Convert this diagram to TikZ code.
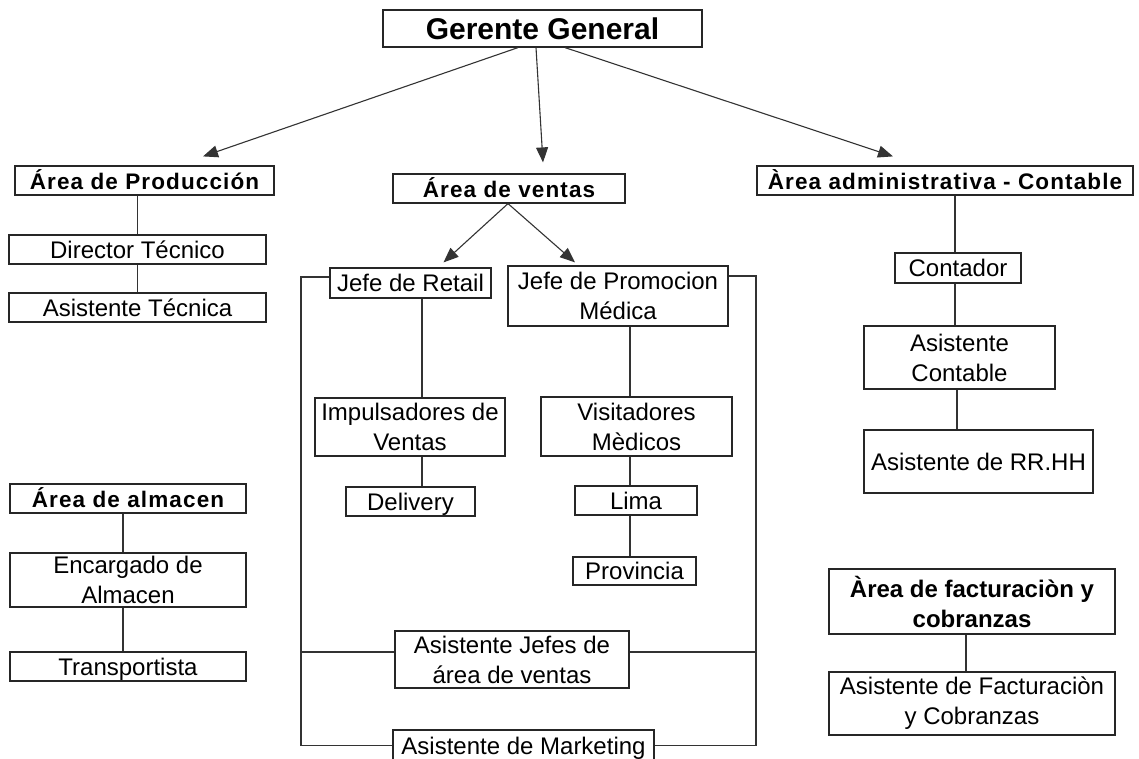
\documentclass[tikz,border=0pt]{standalone}
\usepackage{fontspec}
\setmainfont{Liberation Sans}
\newfontfamily\hdrfont[LetterSpace=5]{Liberation Sans}
\usetikzlibrary{arrows.meta}
\tikzset{
  box/.style={draw=black!85, line width=1.2pt, rectangle, inner sep=0pt, align=center,
    fill=white, font=\fontsize{24}{30}\selectfont},
  one/.style={text height=21pt, text depth=4pt},
  hbox/.style={box, one, font=\hdrfont\bfseries\fontsize{22.5}{26}\selectfont},
  bbox/.style={box, font=\bfseries\fontsize{24}{30}\selectfont},
  conn/.style={line width=1.1pt, draw=black!80},
  arr/.style={conn, -{Triangle[length=15pt,width=12pt]}}
}
\begin{document}
\begin{tikzpicture}[x=1pt,y=-1pt]
\fill[white] (0,0) rectangle (1139,758);
\useasboundingbox (0,0) rectangle (1139,758);

% nodes
\node[box, font=\bfseries\fontsize{30}{34}\selectfont, minimum width=319pt, minimum height=37pt] (gg) at (542.5,28.5) {Gerente General};
\node[hbox, minimum width=259pt, minimum height=29pt] (prod) at (144.5,180.5) {Área de Producción};
\node[hbox, minimum width=232pt, minimum height=29pt] (ventas) at (509,188.5) {Área de ventas};
\node[hbox, minimum width=376pt, minimum height=29pt] (admin) at (945,180.5) {Àrea administrativa - Contable};

\node[box, one, minimum width=257pt, minimum height=29pt] (dir) at (137.5,249.5) {Director Técnico};
\node[box, one, minimum width=257pt, minimum height=29pt] (astec) at (137.5,307.5) {Asistente Técnica};

\node[box, one, minimum width=161pt, minimum height=30pt] (retail) at (410.5,283) {Jefe de Retail};
\node[box, minimum width=220pt, minimum height=60pt] (promo) at (618,296) {Jefe de Promocion\\Médica};

\node[box, one, minimum width=126pt, minimum height=30pt] (cont) at (958,268) {Contador};
\node[box, minimum width=191pt, minimum height=63pt] (acont) at (959.5,357.5) {Asistente\\Contable};
\node[box, one, minimum width=229pt, minimum height=63pt] (rrhh) at (978.5,461.5) {Asistente de RR.HH};

\node[box, minimum width=190pt, minimum height=58pt] (impuls) at (410,427) {Impulsadores de\\Ventas};
\node[box, minimum width=191pt, minimum height=59pt] (visit) at (636.5,426.5) {Visitadores\\Mèdicos};
\node[box, one, minimum width=129pt, minimum height=29pt] (deliv) at (410.5,501.5) {Delivery};
\node[box, one, minimum width=122pt, minimum height=29pt] (lima) at (636,500.5) {Lima};
\node[box, one, minimum width=123pt, minimum height=28pt] (prov) at (634.5,571) {Provincia};

\node[hbox, minimum width=236pt, minimum height=29pt] (alm) at (128,498.5) {Área de almacen};
\node[box, minimum width=236pt, minimum height=54pt] (enc) at (128,580) {Encargado de\\Almacen};
\node[box, one, minimum width=236pt, minimum height=29pt] (transp) at (128,666.5) {Transportista};

\node[bbox, minimum width=286pt, minimum height=65pt] (fact) at (972,601.5) {Àrea de facturaciòn y\\cobranzas};
\node[box, minimum width=286pt, minimum height=63pt] (afact) at (972,703.5) {Asistente de Facturaciòn\\y Cobranzas};

\node[box, minimum width=234pt, minimum height=57pt] (jefes) at (512,659.5) {Asistente Jefes de\\área de ventas};
\node[box, one, minimum width=261pt, minimum height=31pt] (mkt) at (523.5,745.5) {Asistente de Marketing};

% arrows from Gerente General
\draw[arr] ([xshift=-24.5pt]gg.south) -- ([xshift=58.5pt,yshift=9pt]prod.north);
\draw[arr] ([xshift=-6.5pt]gg.south) -- ([xshift=34pt,yshift=11pt]ventas.north);
\draw[arr] ([xshift=22.5pt]gg.south) -- ([xshift=-52pt,yshift=9pt]admin.north);
\draw[arr] ([xshift=-1pt]ventas.south) -- ([xshift=33pt,yshift=5pt]retail.north);
\draw[arr] ([xshift=-1pt]ventas.south) -- ([xshift=-43pt,yshift=3pt]promo.north);

% Producción
\draw[conn] (dir.north |- prod.south) -- (dir.north);
\draw[conn] (dir.south) -- (astec.north);

% Ventas
\coordinate (rx) at (422,0);
\coordinate (px) at (630,0);
\draw[conn] (retail.south -| rx) -- (impuls.north -| rx);
\draw[conn] (impuls.south -| rx) -- (deliv.north -| rx);
\draw[conn] (promo.south -| px) -- (visit.north -| px);
\draw[conn] (visit.south -| px) -- (lima.north -| px);
\draw[conn] (lima.south -| px) -- (prov.north -| px);

\coordinate (lx) at (301,0);
\coordinate (qx) at (756,0);
\draw[conn] ([yshift=6pt]retail.west) -- ([yshift=6pt]retail.west -| lx) -- (mkt.west -| lx) -- (mkt.west);
\draw[conn] ([yshift=7.5pt]jefes.west -| lx) -- ([yshift=7.5pt]jefes.west);
\draw[conn] ([yshift=20pt]promo.east) -- ([yshift=20pt]promo.east -| qx) -- (mkt.east -| qx) -- (mkt.east);
\draw[conn] ([yshift=7.5pt]jefes.east) -- ([yshift=7.5pt]jefes.east -| qx);

% Administrativa
\coordinate (ax) at (955,0);
\draw[conn] (admin.south -| ax) -- (cont.north -| ax);
\draw[conn] (cont.south -| ax) -- (acont.north -| ax);
\draw[conn] ([xshift=-2.5pt]acont.south) -- ([xshift=-2.5pt]acont.south |- rrhh.north);

% Almacen
\coordinate (mx) at (123,0);
\draw[conn] (alm.south -| mx) -- (enc.north -| mx);
\draw[conn] (enc.south -| mx) -- (transp.north -| mx);

% Facturacion
\coordinate (fx) at (966,0);
\draw[conn] (fact.south -| fx) -- (afact.north -| fx);
\end{tikzpicture}
\end{document}
